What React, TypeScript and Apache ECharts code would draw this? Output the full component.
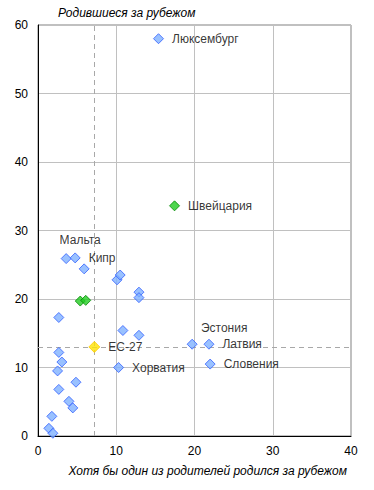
import React, { useEffect, useRef } from "react";
import * as echarts from "echarts";

// Blue: countries (x = at least one parent born abroad, %, y = born abroad, %)
const blueNames = [
  "Люксембург", "Мальта", "Кипр", "Эстония", "Латвия", "Словения", "Хорватия",
  "", "", "", "", "", "", "", "", "", "", "", "", "", "", "", "", "", "", "",
];
const blueX = [
  15.4, 3.6, 4.75, 19.7, 21.85, 22.0, 10.3,
  5.9, 10.1, 10.5, 12.9, 12.9, 2.66, 10.85, 12.9, 2.66, 3.05, 2.5, 4.85, 2.66,
  3.95, 4.45, 1.77, 1.39, 1.9,
];
const blueY = [
  58.0, 25.9, 26.0, 13.4, 13.4, 10.5, 10.0,
  24.4, 22.8, 23.5, 21.0, 20.2, 17.3, 15.4, 14.7, 12.2, 10.8, 9.5, 7.85, 6.8,
  5.06, 4.1, 2.87, 1.12, 0.4,
];

const greenNames = ["Швейцария", "", ""];
const greenX = [17.45, 5.4, 6.1];
const greenY = [33.6, 19.7, 19.8];

const euName = "ЕС-27";
const euX = 7.2;
const euY = 13.0;

const xTicks = [0, 10, 20, 30, 40];
const yTicks = [0, 10, 20, 30, 40, 50, 60];

const yTitle = "Родившиеся за рубежом";
const xTitle = "Хотя бы один из родителей родился за рубежом";

const FONT = "'Liberation Sans', Arial, sans-serif";

const labelStyle = (name: string) => {
  const base: any = {
    show: name !== "",
    formatter: "{b}",
    color: "#000",
    fontSize: 12,
    fontFamily: FONT,
    position: "right",
    distance: 8,
  };
  if (name === "Мальта") {
    base.position = "top";
    base.offset = [14, 1];
  }
  if (name === "Эстония") {
    base.position = "top";
    base.offset = [32, 3];
  }
  return base;
};

const makeData = (names: string[], xs: number[], ys: number[]) =>
  xs.map((x, i) => ({
    name: names[i] || "",
    value: [x, ys[i]],
    label: labelStyle(names[i] || ""),
  }));

export default function App() {
  const ref = useRef<HTMLDivElement>(null);
  useEffect(() => {
    document.body.style.margin = "0";
    if (!ref.current) return;
    const chart = echarts.init(ref.current, null, { renderer: "svg" });
    const axisLabel = { color: "#000", fontSize: 12, fontFamily: FONT };
    chart.setOption({
      animation: false,
      grid: {
        left: 38,
        right: 23,
        top: 25,
        bottom: 54,
        show: true,
        borderColor: "#808080",
        borderWidth: 1,
      },
      xAxis: {
        type: "value",
        min: xTicks[0],
        max: xTicks[xTicks.length - 1],
        interval: 10,
        axisLine: { show: true, onZero: false, lineStyle: { color: "#000" } },
        axisTick: { show: false },
        axisLabel: { ...axisLabel, margin: 9 },
        splitLine: { lineStyle: { color: "#c0c0c0" } },
      },
      yAxis: {
        type: "value",
        min: yTicks[0],
        max: yTicks[yTicks.length - 1],
        interval: 10,
        axisLine: { show: true, onZero: false, lineStyle: { color: "#000" } },
        axisTick: { show: false },
        axisLabel: { ...axisLabel, margin: 10 },
        splitLine: { lineStyle: { color: "#c0c0c0" } },
      },
      graphic: [
        {
          type: "text",
          left: 58,
          top: 7,
          style: {
            text: yTitle,
            fill: "#000",
            font: `italic 12px ${FONT}`,
          },
        },
        {
          type: "text",
          right: 27,
          top: 465,
          style: {
            text: xTitle,
            fill: "#000",
            font: `italic 12px ${FONT}`,
          },
        },
      ],
      series: [
        {
          type: "scatter",
          symbol: "diamond",
          symbolSize: 10,
          itemStyle: { color: "#80b2ff", borderColor: "#3360ff", borderWidth: 1 },
          data: makeData(blueNames, blueX, blueY),
          z: 3,
        },
        {
          type: "scatter",
          symbol: "diamond",
          symbolSize: 10,
          itemStyle: { color: "#22cc22", borderColor: "#008800", borderWidth: 1 },
          data: makeData(greenNames, greenX, greenY),
          z: 3,
        },
        {
          type: "scatter",
          symbol: "diamond",
          symbolSize: 11,
          itemStyle: { color: "#ffe400", borderColor: "#ffcc00", borderWidth: 1 },
          data: makeData([euName], [euX], [euY]),
          z: 4,
          markLine: {
            silent: true,
            symbol: "none",
            label: { show: false },
            lineStyle: { color: "#a8a8a8", type: [5, 4], width: 1 },
            data: [{ xAxis: euX }, { yAxis: euY }],
            z: 1,
          },
        },
      ],
    });
    return () => chart.dispose();
  }, []);
  return <div ref={ref} style={{ width: 374, height: 490 }} />;
}
